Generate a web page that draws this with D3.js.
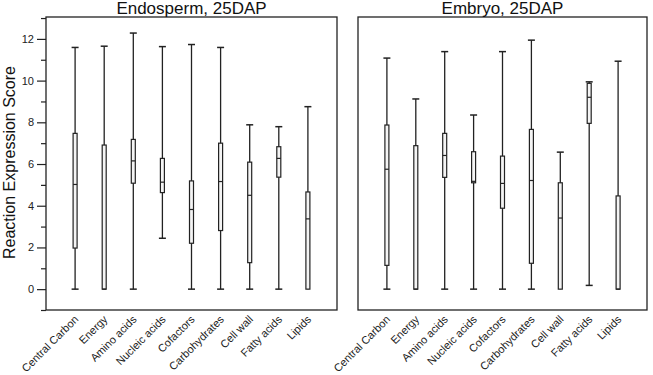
<!DOCTYPE html>
<html><head><meta charset="utf-8">
<script src="https://cdn.jsdelivr.net/npm/d3@7"></script>
<style>body{margin:0;background:#fff}svg{display:block}text{font-family:"Liberation Sans",Arial,sans-serif}</style>
</head><body>
<script>
const categories = ["Central Carbon","Energy","Amino acids","Nucleic acids","Cofactors","Carbohydrates","Cell wall","Fatty acids","Lipids"];
const panelTitles = ["Endosperm, 25DAP","Embryo, 25DAP"];
// Endosperm: min, q1, median, q3, max
const endoMin = [0,0,0,2.44,0,0,0,0,0];
const endoQ1  = [1.97,0,5.08,4.63,2.20,2.81,1.27,5.37,0];
const endoMed = [5.02,0,6.15,5.13,3.82,5.16,4.50,6.27,3.37];
const endoQ3  = [7.47,6.91,7.18,6.27,5.19,7.00,6.09,6.83,4.66];
const endoMax = [11.59,11.65,12.28,11.63,11.73,11.59,7.88,7.79,8.75];
// Embryo
const embMin = [0,0,0,0,0,0,0,0.18,0];
const embQ1  = [1.14,0,5.36,5.10,3.88,1.24,0,7.95,0];
const embMed = [5.75,0,6.41,5.17,5.07,5.21,3.41,9.20,0];
const embQ3  = [7.87,6.88,7.47,6.59,6.38,7.66,5.10,9.87,4.47];
const embMax = [11.08,9.12,11.39,8.35,11.39,11.94,6.57,9.94,10.93];
const yTicks = [0,2,4,6,8,10,12];
const yMinor = [-1,1,3,5,7,9,11,13];
const yLabel = "Reaction Expression Score";

const W=653,H=375;
const svg=d3.select("body").append("svg").attr("width",W).attr("height",H);
const pTop=17,pBottom=310;
const y=d3.scaleLinear().domain([-1,13.05]).range([pBottom,pTop]);
const panels=[
  {x0:46,x1:337,title:panelTitles[0],mn:endoMin,q1:endoQ1,md:endoMed,q3:endoQ3,mx:endoMax,axis:true},
  {x0:358,x1:647,title:panelTitles[1],mn:embMin,q1:embQ1,md:embMed,q3:embQ3,mx:embMax,axis:false}
];
const stroke="#222";
panels.forEach(p=>{
  const x=d3.scaleLinear().domain([0,categories.length+1]).range([p.x0,p.x1]);
  const g=svg.append("g");
  g.append("rect").attr("x",p.x0).attr("y",pTop).attr("width",p.x1-p.x0).attr("height",pBottom-pTop)
    .attr("fill","none").attr("stroke",stroke).attr("stroke-width",1.3);
  g.append("text").attr("x",(p.x0+p.x1)/2).attr("y",14).attr("text-anchor","middle")
    .attr("font-size",17).attr("fill","#111").text(p.title);
  if(p.axis){
    const ax=svg.append("g").attr("transform",`translate(${p.x0},0)`)
      .call(d3.axisLeft(y).tickValues(yTicks).tickSize(9).tickPadding(3).tickFormat(d3.format("d")));
    ax.select(".domain").remove();
    ax.selectAll("line").attr("stroke",stroke).attr("stroke-width",1.2);
    ax.selectAll("text").attr("font-size",11).attr("fill","#222").attr("font-family","Liberation Sans, Arial, sans-serif");
    const mi=svg.append("g").attr("transform",`translate(${p.x0},0)`)
      .call(d3.axisLeft(y).tickValues(yMinor).tickSize(5).tickFormat(""));
    mi.select(".domain").remove();
    mi.selectAll("line").attr("stroke",stroke).attr("stroke-width",1.2);
  }
  categories.forEach((c,i)=>{
    const cx=x(i+1);
    const bw=4, cw=7;
    g.append("line").attr("x1",cx).attr("x2",cx).attr("y1",y(p.mn[i])).attr("y2",y(p.mx[i]))
      .attr("stroke",stroke).attr("stroke-width",1.3);
    if(p.mx[i]>p.q3[i]) g.append("line").attr("x1",cx-cw/2).attr("x2",cx+cw/2).attr("y1",y(p.mx[i])).attr("y2",y(p.mx[i]))
      .attr("stroke",stroke).attr("stroke-width",1.5);
    if(p.mn[i]<p.q1[i]) g.append("line").attr("x1",cx-cw/2).attr("x2",cx+cw/2).attr("y1",y(p.mn[i])).attr("y2",y(p.mn[i]))
      .attr("stroke",stroke).attr("stroke-width",1.5);
    g.append("rect").attr("x",cx-bw/2).attr("width",bw).attr("y",y(p.q3[i])).attr("height",y(p.q1[i])-y(p.q3[i]))
      .attr("fill","#f4f4f4").attr("stroke",stroke).attr("stroke-width",1.2);
    g.append("line").attr("x1",cx-bw/2).attr("x2",cx+bw/2).attr("y1",y(p.md[i])).attr("y2",y(p.md[i]))
      .attr("stroke",stroke).attr("stroke-width",1.2);
    g.append("text").attr("transform",`translate(${cx+4},${pBottom+10}) rotate(-45)`)
      .attr("text-anchor","end").attr("font-size",11).attr("fill","#222").text(c);
  });
});
svg.append("text").attr("transform",`translate(15,${(pTop+pBottom)/2 -1}) rotate(-90)`).attr("text-anchor","middle")
  .attr("font-size",16).attr("fill","#111").text(yLabel);
</script>
</body></html>
